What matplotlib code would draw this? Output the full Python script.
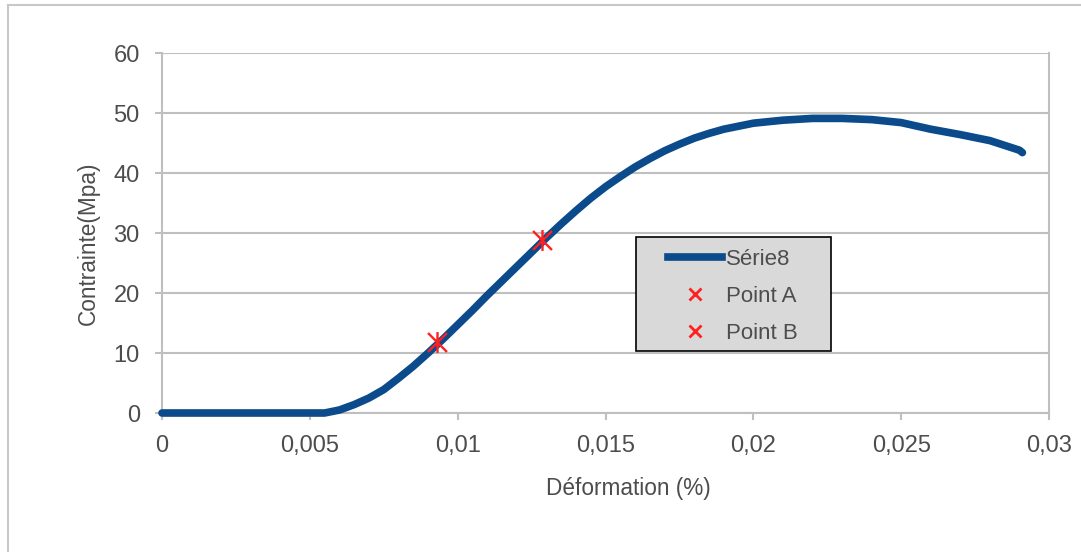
import matplotlib
matplotlib.use("Agg")
import matplotlib.pyplot as plt
from matplotlib.path import Path
from matplotlib.lines import Line2D
from matplotlib.patches import Rectangle

plt.rcParams['font.family'] = ['Liberation Sans', 'DejaVu Sans']

# ---- data ----
strain = [0, 0.0055, 0.006, 0.0065, 0.007, 0.0075, 0.008, 0.0085, 0.009, 0.0095,
          0.01, 0.0105, 0.011, 0.0115, 0.012, 0.0125, 0.013, 0.0135, 0.014, 0.0145,
          0.015, 0.0155, 0.016, 0.0165, 0.017, 0.0175, 0.018, 0.0185, 0.019, 0.0195,
          0.02, 0.021, 0.022, 0.023, 0.024, 0.025, 0.026, 0.027, 0.028, 0.029, 0.0291]
stress = [0, 0, 0.5, 1.4, 2.5, 3.9, 5.8, 7.8, 10.0, 12.3,
          14.7, 17.1, 19.6, 22.0, 24.4, 26.8, 29.2, 31.5, 33.7, 35.8,
          37.7, 39.4, 41.0, 42.4, 43.7, 44.8, 45.8, 46.6, 47.3, 47.8,
          48.3, 48.8, 49.1, 49.1, 48.9, 48.4, 47.3, 46.4, 45.4, 43.8, 43.4]
point_a = (0.0093, 11.8)
point_b = (0.01285, 28.8)
series_labels = ['Série8', 'Point A', 'Point B']
xticks = [0, 0.005, 0.01, 0.015, 0.02, 0.025, 0.03]
xtick_labels = ['0', '0,005', '0,01', '0,015', '0,02', '0,025', '0,03']
yticks = [0, 10, 20, 30, 40, 50, 60]
xlabel = 'Déformation (%)'
ylabel = 'Contrainte(Mpa)'

W, H = 1081, 552
fig = plt.figure(figsize=(W / 100, H / 100), dpi=100)
ax = fig.add_axes([162 / W, 1 - 413 / H, (1049 - 162) / W, (413 - 53) / H])

grid_c = '#bfbfbf'
text_c = '#4d4d4d'
line_c = '#0b4a8b'
red_c = '#ff2020'

star = Path([(-1, -1), (1, 1), (-1, 1), (1, -1), (0, -1.1), (0, 1.1)],
            [Path.MOVETO, Path.LINETO, Path.MOVETO, Path.LINETO, Path.MOVETO, Path.LINETO])

ax.plot(strain, stress, color=line_c, lw=5.5, solid_capstyle='round', clip_on=False, zorder=3)
ax.plot([point_a[0]], [point_a[1]], ls='none', marker=star, ms=15, mew=1.7, color=red_c, zorder=4, clip_on=False)
ax.plot([point_b[0]], [point_b[1]], ls='none', marker=star, ms=15, mew=1.7, color=red_c, zorder=4, clip_on=False)

ax.set_xlim(0, 0.03)
ax.set_ylim(0, 60)
ax.set_xticks(xticks)
ax.set_xticklabels(xtick_labels)
ax.set_yticks(yticks)
ax.yaxis.grid(True, color=grid_c, lw=1.5)
ax.set_axisbelow(True)
for s in ax.spines.values():
    s.set_color(grid_c)
    s.set_linewidth(1.5)
ax.spines['top'].set_visible(False)
ax.tick_params(axis='both', colors=grid_c, labelcolor=text_c, labelsize=17, length=5, width=1.5)
ax.tick_params(axis='y', pad=11)
ax.tick_params(axis='x', pad=11)

fig.text(628 / W, 1 - 489 / H, xlabel, ha='center', va='center', fontsize=16.3, color=text_c)
fig.text(88 / W, 1 - 243 / H, ylabel, ha='center', va='center', rotation=90, fontsize=16.3, color=text_c)

# legend box
x0 = (636 - 162) / 887
x1 = (831 - 162) / 887
ytop = (413 - 237) / 360
ybot = (413 - 351) / 360
ax.add_patch(Rectangle((x0, ybot), x1 - x0, ytop - ybot, transform=ax.transAxes,
                       facecolor='#d9d9d9', edgecolor='#000000', lw=1.2, zorder=5, clip_on=False))

handles = [Line2D([], [], color=line_c, lw=5.5),
           Line2D([], [], ls='none', marker='x', ms=8, mew=2, color=red_c),
           Line2D([], [], ls='none', marker='x', ms=8, mew=2, color=red_c)]
leg = ax.legend(handles, series_labels, loc='upper left',
                bbox_to_anchor=((668 - 162) / 887, (413 - 249) / 360),
                borderaxespad=0, borderpad=0, fontsize=16, frameon=False,
                handlelength=2.45, handletextpad=0.18, labelspacing=0.72, labelcolor=text_c)
leg.set_zorder(6)

# outer chart frame (left and top edges visible)
fig.add_artist(Line2D([8 / W, 8 / W], [0, 1 - 5 / H], color='#c8c8c8', lw=1.5, transform=fig.transFigure))
fig.add_artist(Line2D([8 / W, 1], [1 - 5 / H, 1 - 5 / H], color='#c8c8c8', lw=1.5, transform=fig.transFigure))

fig.savefig('out.png', dpi=100)
